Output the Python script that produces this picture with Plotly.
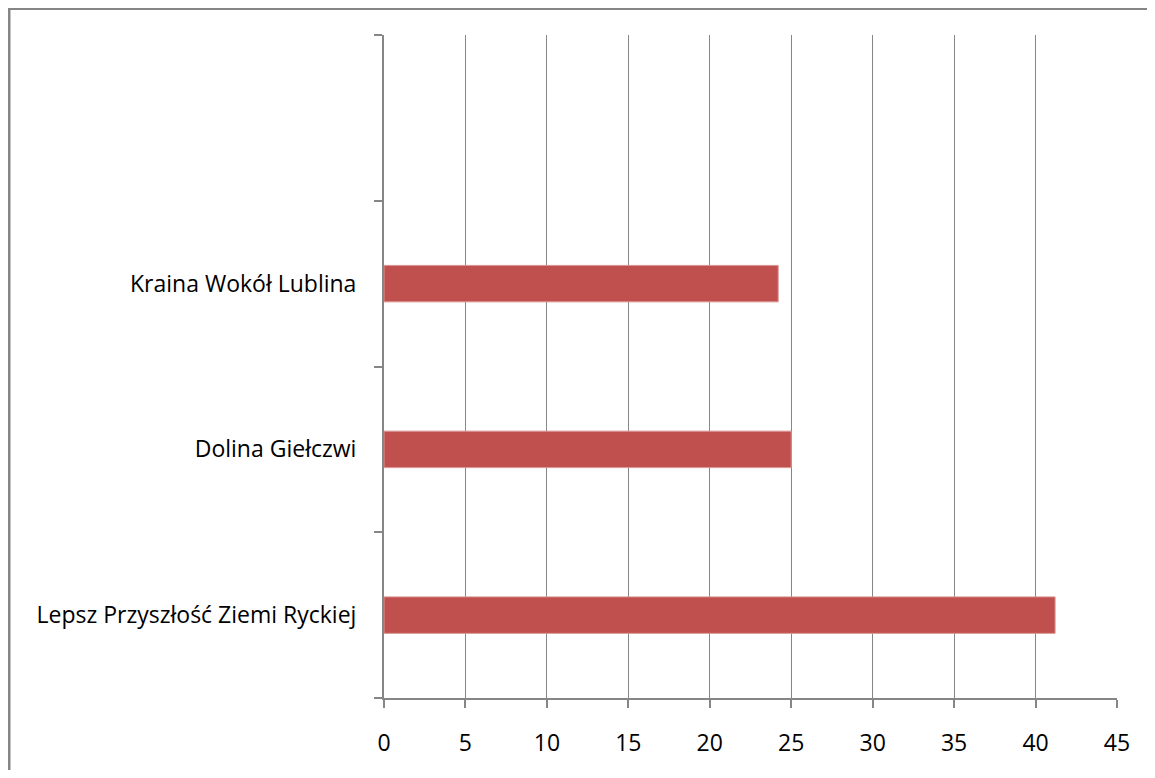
import plotly.graph_objects as go

categories = ["Lepsz Przyszłość Ziemi Ryckiej", "Dolina Giełczwi", "Kraina Wokół Lublina", " "]
values = [41.2, 25.0, 24.2, None]
x_ticks = [0, 5, 10, 15, 20, 25, 30, 35, 40, 45]

# page body has an 8px margin, so the figure is sized/offset to compensate
W, H = 1139, 762
L, R, T, B = 376, 30, 27, 72
pw, ph = W - L - R, H - T - B

grey = "#868686"
fig = go.Figure()
fig.add_trace(go.Bar(
    y=categories, x=values, orientation="h",
    marker=dict(color="#C0504D", line=dict(color="#D99694", width=1)),
    hoverinfo="x+y",
))

fig.update_layout(
    width=W, height=H,
    margin=dict(l=L, r=R, t=T, b=B, pad=0),
    paper_bgcolor="white", plot_bgcolor="white",
    bargap=0.78,
    showlegend=False,
    font=dict(family="Open Sans, Lato, sans-serif", size=23, color="black"),
    xaxis=dict(
        range=[0, 45], tickvals=x_ticks, ticktext=[str(v) for v in x_ticks],
        showgrid=True, gridcolor=grey, gridwidth=1,
        showline=True, linecolor=grey, linewidth=2,
        ticks="outside", ticklen=8, tickcolor=grey, tickwidth=1.5,
        zeroline=False, ticklabelstandoff=15,
        fixedrange=True,
    ),
    yaxis=dict(
        type="category", categoryorder="array", categoryarray=categories,
        range=[-0.5, 3.5],
        showgrid=False, zeroline=False,
        showline=True, linecolor=grey, linewidth=2,
        ticks="outside", ticklen=8, tickcolor=grey, tickwidth=1.5,
        tickson="boundaries", ticklabelstandoff=21,
        fixedrange=True,
    ),
    shapes=[
        dict(type="line", xref="paper", yref="paper",
             x0=(0 - L) / pw, x1=(W + 10 - L) / pw,
             y0=1 + (T - 0.5) / ph, y1=1 + (T - 0.5) / ph,
             line=dict(color=grey, width=3)),
        dict(type="line", xref="paper", yref="paper",
             x0=(1 - L) / pw, x1=(1 - L) / pw,
             y0=1 + (T + 1) / ph, y1=-(B + 10) / ph,
             line=dict(color=grey, width=3)),
    ],
)

fig.write_html("out.html")
